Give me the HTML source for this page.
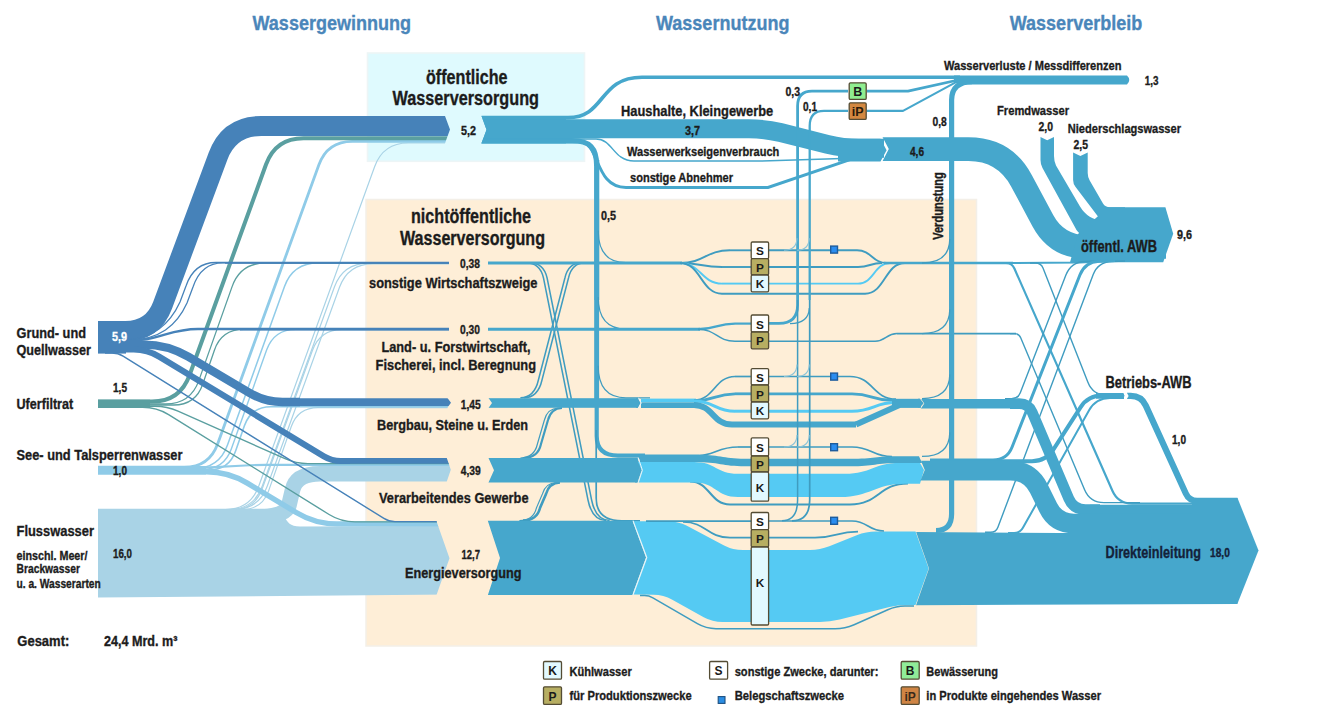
<!DOCTYPE html>
<html lang="de"><head><meta charset="utf-8"><title>Wasserfluss</title>
<style>
html,body{margin:0;padding:0;background:#fff}
svg{display:block}
text{font-family:"Liberation Sans",sans-serif;font-weight:bold}
</style></head><body>
<svg width="1336" height="711" viewBox="0 0 1336 711">
<rect x="0" y="0" width="1336.00" height="711.00" fill="#ffffff" />
<rect x="367.5" y="53" width="217.00" height="108.30" fill="#dffafe" stroke="#edf5f6" stroke-width="1.6"/>
<rect x="366" y="199.5" width="610.50" height="446.50" fill="#feeed7" stroke="#f3efe8" stroke-width="1.5"/>
<defs>
<clipPath id="cA"><polygon points="0,0 445,0 445,116 450,129.6 445,143.2 445,711 0,711"/></clipPath>
<clipPath id="cD"><polygon points="0,0 447.5,0 447.5,398 451,402.8 447.5,407.6 447.5,711 0,711"/></clipPath>
<clipPath id="cE"><polygon points="0,0 446.8,0 446.8,458 450.8,469.8 446.8,481.6 446.8,711 0,711"/></clipPath>
<clipPath id="cF"><polygon points="0,0 436.5,0 436.5,521.3 449.5,558.15 436.5,595 436.5,711 0,711"/></clipPath>
</defs>
<path d="M98.0,509.5 L225.3,509.5 Q250.3,509.5 258.8,486.0 L374.7,166.5 Q383.2,143.0 408.2,143.0 L460.0,143.0" stroke="#a9d3e6" stroke-width="1.2" fill="none" clip-path="url(#cA)"/>
<path d="M98.0,509.5 L228.8,509.5 Q253.8,509.5 262.3,486.0 L334.5,286.8 Q343.0,263.3 368.0,263.3 L449.0,263.3" stroke="#a9d3e6" stroke-width="1.2" fill="none"/>
<path d="M98.0,509.5 L233.8,509.5 Q258.8,509.5 267.3,486.0 L339.5,287.3 Q348.0,263.8 373.0,263.8 L449.0,263.8" stroke="#a9d3e6" stroke-width="1.2" fill="none"/>
<path d="M98.0,509.5 L232.7,509.5 Q254.7,509.5 262.2,488.8 L312.5,350.3 Q320.0,329.6 342.0,329.6 L449.0,329.6" stroke="#a9d3e6" stroke-width="1.2" fill="none"/>
<path d="M98.0,509.5 L242.0,509.5 Q262.0,509.5 268.7,490.6 L291.3,426.5 Q298.0,407.6 318.0,407.6 L460.0,407.6" stroke="#a9d3e6" stroke-width="1.2" fill="none" clip-path="url(#cD)"/>
<path d="M98,508.8 L270,508.8 C290,508.8 280,526.5 300,526.5 L460,526 L460,594.5 L98,597.5 Z" fill="#a9d3e6" clip-path="url(#cF)"/>
<path d="M98,517 L255,517 Q286,517 289,505 L292.5,490 Q296,473.8 320,473.8 L460,473.8" stroke="#a9d3e6" stroke-width="15.6" fill="none" clip-path="url(#cE)"/>
<path d="M98.0,467.2 L184.2,467.2 Q209.2,467.2 217.7,443.7 L318.9,164.8 Q327.4,141.3 352.4,141.3 L460.0,141.3" stroke="#8fcbe8" stroke-width="2.8" fill="none" clip-path="url(#cA)"/>
<path d="M98.0,468.5 L194.0,468.5 Q219.0,468.5 227.5,445.0 L284.5,286.5 Q293.0,263.0 318.0,263.0 L449.0,263.0" stroke="#8fcbe8" stroke-width="1.5" fill="none"/>
<path d="M98.0,469.5 L202.0,469.5 Q224.0,469.5 231.4,448.8 L266.6,350.1 Q274.0,329.4 296.0,329.4 L449.0,329.4" stroke="#8fcbe8" stroke-width="1.4" fill="none"/>
<path d="M98.0,470.0 L209.0,470.0 Q229.0,470.0 235.6,451.1 L244.4,425.7 Q251.0,406.8 271.0,406.8 L460.0,406.8" stroke="#8fcbe8" stroke-width="1.6" fill="none" clip-path="url(#cD)"/>
<path d="M98.0,471.7 L206.5,471.7 Q228.5,471.7 247.3,483.1 L296.2,512.5 Q315.0,523.9 337.0,523.9 L460.0,523.9" stroke="#8fcbe8" stroke-width="5.4" fill="none" clip-path="url(#cF)"/>
<path d="M98.0,468.0 L190.0,468.0 Q200.0,468.0 210.0,467.4 L245.0,465.5 Q255.0,464.9 265.0,464.9 L460.0,464.9" stroke="#8fcbe8" stroke-width="2.2" fill="none" clip-path="url(#cE)"/>
<path d="M98,466 L206,466 L206,474.5 L98,474.5 Z" fill="#8fcbe8"/>
<path d="M98.0,401.5 L152.0,401.5 Q180.0,401.5 189.5,375.2 L266.0,164.5 Q275.5,138.2 303.5,138.2 L460.0,138.2" stroke="#5a9fa0" stroke-width="4" fill="none" clip-path="url(#cA)"/>
<path d="M98.0,404.0 L165.6,404.0 Q190.6,404.0 198.9,380.4 L232.1,286.6 Q240.4,263.0 265.4,263.0 L449.0,263.0" stroke="#5a9fa0" stroke-width="1.3" fill="none"/>
<path d="M98.0,405.0 L173.6,405.0 Q195.6,405.0 202.7,384.2 L214.4,350.2 Q221.5,329.4 243.5,329.4 L449.0,329.4" stroke="#5a9fa0" stroke-width="1.3" fill="none"/>
<path d="M98.0,407.2 L142.7,407.2 Q156.7,407.2 168.6,414.6 L329.1,514.5 Q341.0,521.9 355.0,521.9 L460.0,521.9" stroke="#5a9fa0" stroke-width="1.4" fill="none" clip-path="url(#cF)"/>
<path d="M98.0,406.2 L155.0,406.2 Q167.0,406.2 178.0,411.1 L285.0,458.7 Q296.0,463.6 308.0,463.6 L460.0,463.6" stroke="#5a9fa0" stroke-width="1.4" fill="none" clip-path="url(#cE)"/>
<path d="M98,399.8 L150,399.8 L150,408 L98,408 Z" fill="#5a9fa0"/>
<path d="M98.0,331.0 L125.5,331.0 Q153.0,331.0 162.6,305.2 L218.1,156.0 Q229.3,126.0 261.3,126.0 L460.0,126.0" stroke="#4682b9" stroke-width="20" fill="none" clip-path="url(#cA)"/>
<path d="M126,340 C152,339.5 170,324 180,302 L186,286 Q194,262.5 216,262.5 L449,262.5" stroke="#4682b9" stroke-width="1.3" fill="none"/>
<path d="M126,340.6 C160,340.4 177,325 187,303 L193,287 Q201,262.8 223,262.8 L449,262.8" stroke="#4682b9" stroke-width="1.3" fill="none"/>
<path d="M124,341 C160,341 168,329 198,329 L449,329" stroke="#4682b9" stroke-width="2.5" fill="none"/>
<path d="M240,329.2 L449,329.2" stroke="#4682b9" stroke-width="2.4" fill="none"/>
<path d="M225,262.8 L449,262.8" stroke="#4682b9" stroke-width="1.8" fill="none"/>
<path d="M120.0,344.6 L143.8,344.6 Q167.7,344.6 188.2,356.7 L249.9,393.1 Q265.0,402.0 282.5,402.0 L300.0,402.0" stroke="#4682b9" stroke-width="8.4" fill="none" clip-path="url(#cD)"/>
<path d="M285,398.2 L460,398.2 L460,405.9 L285,405.9 Z" fill="#4682b9" clip-path="url(#cD)"/>
<path d="M105.0,353.0 L112.0,353.0 Q118.0,353.0 123.1,356.2 L383.9,518.4 Q389.0,521.6 395.0,521.6 L460.0,521.6" stroke="#4682b9" stroke-width="1.4" fill="none" clip-path="url(#cF)"/>
<path d="M120.0,349.5 L133.7,349.5 Q147.4,349.5 159.1,356.6 L323.9,456.3 Q331.7,461.0 340.9,461.0 L350.0,461.0" stroke="#4682b9" stroke-width="6.2" fill="none" clip-path="url(#cE)"/>
<path d="M340,458 L460,458 L460,463.8 L340,463.8 Z" fill="#4682b9" clip-path="url(#cE)"/>
<path d="M98,321.2 L126,321.2 L126,353.6 L98,353.6 Z" fill="#4682b9"/>
<defs>
<clipPath id="cA2"><polygon points="1336,0 481.5,0 481.5,116 486.5,129.65 481.5,143.3 481.5,711 1336,711"/></clipPath>
<clipPath id="cD2"><polygon points="1336,0 488.5,0 488.5,398 492,403.0 488.5,408 488.5,711 1336,711"/></clipPath>
<clipPath id="cE2"><polygon points="1336,0 488.5,0 488.5,458 494,470.3 488.5,482.6 488.5,711 1336,711"/></clipPath>
<clipPath id="cF2"><polygon points="1336,0 487.8,0 487.8,520.7 500,557.95 487.8,595.2 487.8,711 1336,711"/></clipPath>
</defs>
<path d="M596.7,160 L596.7,436 Q596.7,455.6 618,455.6 L645,455.6" stroke="#46a7cc" stroke-width="4.2" fill="none" />
<path d="M596.7,160 L596.7,300" stroke="#46a7cc" stroke-width="5.2" fill="none" />
<path d="M596.7,300 L596.7,400" stroke="#46a7cc" stroke-width="4.8" fill="none" />
<path d="M596.2,430 L596.2,498 Q596.2,520.8 622,520.8 L640,520.8" stroke="#3f9cc0" stroke-width="1.7" fill="none" />
<path d="M598.2,230.60000000000002 Q598.2,262.6 626,262.6 L650,262.6" stroke="#3f9cc0" stroke-width="1.2" fill="none" />
<path d="M598.2,297 Q598.2,329 626,329 L650,329" stroke="#3f9cc0" stroke-width="1.2" fill="none" />
<path d="M598.2,365.8 Q598.2,397.8 626,397.8 L650,397.8" stroke="#3f9cc0" stroke-width="1.2" fill="none" />
<g clip-path="url(#cA2)">
<rect x="470" y="116" width="96.00" height="27.40" fill="#46a7cc" />
<path d="M470,117.6 L568,117.6 C606,117.6 598,77.2 642,77.2 L960,77.2" stroke="#46a7cc" stroke-width="3.6" fill="none" />
<path d="M470,140.7 L572,140.7 C590,140.7 596.7,148 596.7,166" stroke="#46a7cc" stroke-width="5.2" fill="none" />
<path d="M470,142 L580,142 C600,142 594,187.5 626,187.5 L768,187.5 L850,159.6" stroke="#46a7cc" stroke-width="3" fill="none" />
<path d="M470,139 L596,139 C613,139 613,161 634,161 L762,161 L850,158.2" stroke="#46a7cc" stroke-width="1.5" fill="none" />
<path d="M470.0,128.8 L749.0,128.8 Q765.0,128.8 780.5,132.6 L827.5,144.4 Q843.0,148.2 859.0,148.2 L884.0,148.2" stroke="#46a7cc" stroke-width="19" fill="none" />
</g>
<polygon points="838.0,138.7 880.5,138.7 886.6,150.2 880.5,161.6 838.0,161.6" fill="#46a7cc" />
<path d="M526,262.8 Q540,262.8 543.5,278 L588,500 Q592,520 606,520.6" stroke="#3f9cc0" stroke-width="1.5" fill="none" />
<path d="M585,262.8 Q572,262.8 568.5,278 L542,380 Q538,397.6 524,397.8" stroke="#3f9cc0" stroke-width="1.5" fill="none" />
<path d="M562,408 Q551,408.5 548,420 L541,444 Q538,457.6 524,458" stroke="#3f9cc0" stroke-width="2.2" fill="none" />
<path d="M560,482.5 Q549,483 546,494 L540,508 Q537,520.4 523,520.6" stroke="#3f9cc0" stroke-width="2.6" fill="none" />
<path d="M529.6,262.8 Q543.6,262.8 547.1,278 L591.6,500 Q595.6,520 609.6,520.6" stroke="#3f9cc0" stroke-width="1.5" fill="none" />
<path d="M581.4,262.8 Q568.4,262.8 564.9,278 L538.4,380 Q534.4,397.6 520.4,397.8" stroke="#3f9cc0" stroke-width="1.5" fill="none" />
<path d="M558.4,408 Q547.4,408.5 544.4,420 L537.4,444 Q534.4,457.6 520.4,458" stroke="#3f9cc0" stroke-width="1.2" fill="none" />
<path d="M556.4,482.5 Q545.4,483 542.4,494 L536.4,508 Q533.4,520.4 519.4,520.6" stroke="#3f9cc0" stroke-width="1.1" fill="none" />
<path d="M488,263 L682,263" stroke="#46a7cc" stroke-width="2.8" fill="none" />
<path d="M680,263 C705.0,263 705.0,250.3 730,250.3" stroke="#3f9cc0" stroke-width="1.9" fill="none" />
<path d="M730,250.3 L751.2,250.3" stroke="#3f9cc0" stroke-width="1.9" fill="none" />
<path d="M680,263 C701.0,263 701.0,267 722,267" stroke="#3f9cc0" stroke-width="1.9" fill="none" />
<path d="M722,267 L751.2,267" stroke="#3f9cc0" stroke-width="1.9" fill="none" />
<path d="M680,263 C701.0,263 701.0,283.6 722,283.6" stroke="#55caf3" stroke-width="1.9" fill="none" />
<path d="M722,283.6 L751.2,283.6" stroke="#55caf3" stroke-width="1.9" fill="none" />
<path d="M680,263 C701.0,263 701.0,293.7 722,293.7" stroke="#3f9cc0" stroke-width="1.9" fill="none" />
<path d="M722,293.7 L865,293.7" stroke="#3f9cc0" stroke-width="1.9" fill="none" />
<path d="M768.6,250.3 L857,250.3" stroke="#3f9cc0" stroke-width="1.9" fill="none" />
<path d="M857,250.3 C872.0,250.3 872.0,263 887,263" stroke="#3f9cc0" stroke-width="1.9" fill="none" />
<path d="M768.6,267 L858,267" stroke="#3f9cc0" stroke-width="1.9" fill="none" />
<path d="M858,267 C870.0,267 870.0,263 882,263" stroke="#3f9cc0" stroke-width="1.9" fill="none" />
<path d="M768.6,283.6 L858,283.6" stroke="#55caf3" stroke-width="1.9" fill="none" />
<path d="M858,283.6 C874.0,283.6 874.0,263 890,263" stroke="#55caf3" stroke-width="1.9" fill="none" />
<path d="M865,293.7 C885.0,293.7 885.0,263 905,263" stroke="#3f9cc0" stroke-width="1.9" fill="none" />
<path d="M884,263 L1013,263" stroke="#46a7cc" stroke-width="2.6" fill="none" />
<path d="M488,329.2 L700,329.2" stroke="#46a7cc" stroke-width="2.9" fill="none" />
<path d="M698,329.2 C716.5,329.2 716.5,323.6 735,323.6" stroke="#46a7cc" stroke-width="2.2" fill="none" />
<path d="M735,323.6 L751.2,323.6" stroke="#46a7cc" stroke-width="2.2" fill="none" />
<path d="M698,329.2 C716.5,329.2 716.5,341.2 735,341.2" stroke="#3f9cc0" stroke-width="1.5" fill="none" />
<path d="M735,341.2 L875,341.2" stroke="#3f9cc0" stroke-width="1.5" fill="none" />
<path d="M875,341.2 C886.0,341.2 886.0,333.6 897,333.6" stroke="#3f9cc0" stroke-width="1.5" fill="none" />
<path d="M897,333.6 L1016,333.6" stroke="#3f9cc0" stroke-width="1.7" fill="none" />
<g clip-path="url(#cD2)">
<rect x="480" y="398.2" width="158.00" height="9.60" fill="#46a7cc" />
</g>
<polygon points="636.0,398.2 638.0,398.2 640.5,403.0 638.0,407.8 636.0,407.8" fill="#46a7cc" />
<rect x="641" y="398.6" width="55.00" height="3.80" fill="#55caf3" />
<rect x="641" y="402.4" width="55.00" height="5.60" fill="#46a7cc" />
<path d="M638.6,397.8 L641.2,403 L638.6,408.2" stroke="#e8f6fb" stroke-width="1" fill="none"/>
<path d="M694,400 C714.5,400 714.5,376.5 735,376.5" stroke="#3f9cc0" stroke-width="1.7" fill="none" />
<path d="M735,376.5 L751.2,376.5" stroke="#3f9cc0" stroke-width="1.7" fill="none" />
<path d="M694,401 C714.5,401 714.5,393.8 735,393.8" stroke="#46a7cc" stroke-width="2.8" fill="none" />
<path d="M735,393.8 L751.2,393.8" stroke="#46a7cc" stroke-width="2.8" fill="none" />
<path d="M694,401 C714.5,401 714.5,411.2 735,411.2" stroke="#55caf3" stroke-width="3" fill="none" />
<path d="M735,411.2 L751.2,411.2" stroke="#55caf3" stroke-width="3" fill="none" />
<path d="M694,405 C713.0,405 713.0,424.6 732,424.6" stroke="#46a7cc" stroke-width="6" fill="none" />
<path d="M732,424.6 L856,424.6" stroke="#46a7cc" stroke-width="6" fill="none" />
<path d="M768.6,376.5 L850,376.5" stroke="#3f9cc0" stroke-width="1.7" fill="none" />
<path d="M850,376.5 C873.0,376.5 873.0,399.2 896,399.2" stroke="#3f9cc0" stroke-width="1.7" fill="none" />
<path d="M768.6,393.8 L852,393.8" stroke="#46a7cc" stroke-width="2.8" fill="none" />
<path d="M852,393.8 C872.0,393.8 872.0,400.3 892,400.3" stroke="#46a7cc" stroke-width="2.8" fill="none" />
<path d="M768.6,411.2 L852,411.2" stroke="#55caf3" stroke-width="3" fill="none" />
<path d="M852,411.2 C874.0,411.2 874.0,402.6 896,402.6" stroke="#55caf3" stroke-width="3" fill="none" />
<path d="M856,424.6 L900,404.8 L921,404.8" stroke="#46a7cc" stroke-width="6" fill="none" stroke-linejoin="round"/>
<rect x="892" y="398.8" width="28.00" height="8.80" fill="#46a7cc" />
<polygon points="918.0,398.8 920.0,398.8 923.6,403.2 920.0,407.6 918.0,407.6" fill="#46a7cc" />
<g clip-path="url(#cE2)">
<rect x="480" y="458" width="157.50" height="24.50" fill="#46a7cc" />
</g>
<polygon points="635.0,458.0 637.5,458.0 641.7,470.2 637.5,482.5 635.0,482.5" fill="#46a7cc" />
<path d="M694,456 C716.0,456 716.0,447 738,447" stroke="#3f9cc0" stroke-width="1.7" fill="none" />
<path d="M738,447 L751.2,447" stroke="#3f9cc0" stroke-width="1.7" fill="none" />
<path d="M768.6,447 L852,447" stroke="#3f9cc0" stroke-width="1.7" fill="none" />
<path d="M852,447 C872.0,447 872.0,456.6 892,456.6" stroke="#3f9cc0" stroke-width="1.7" fill="none" />
<path d="M690,481.5 C710.0,481.5 710.0,504.5 730,504.5" stroke="#3f9cc0" stroke-width="2" fill="none" />
<path d="M730,504.5 L850,504.5" stroke="#3f9cc0" stroke-width="2" fill="none" />
<path d="M850,504.5 C879.0,504.5 879.0,483.4 908,483.4" stroke="#3f9cc0" stroke-width="2" fill="none" />
<path d="M638,462 L694,462 C716,462 716,473.8 738,473.8 L845,473.8 C872,473.8 872,463 900,463 L920,463 L924,470 L920,483.7 L905,483.7 C875,483.7 870,497 840,497 L738,497 C716,497 716,482.5 694,482.5 L638,482.5 L642,470.2 Z" fill="#55caf3"/>
<path d="M638,454.6 L694,454.6 C720,454.6 722,458.8 745,458.8 L850,458.8 C875,458.8 875,456.2 900,456.2 L919,456.2 L922,463 L900,463 C875,463 875,466.3 850,466.3 L745,466.3 C722,466.3 720,462 694,462 L640,462 Z" fill="#46a7cc"/>
<path d="M638.2,457.6 L642.4,470.2 L638.2,482.9" stroke="#e8f6fb" stroke-width="1" fill="none"/>
<g clip-path="url(#cF2)">
<rect x="480" y="520.75" width="152.50" height="74.25" fill="#46a7cc" />
</g>
<polygon points="630.0,520.8 632.5,520.8 646.0,557.5 632.5,594.6 630.0,595.0" fill="#46a7cc" />
<path d="M633.0,521.2 L668.0,521.2 Q678.0,521.2 686.9,525.8 L724.1,545.4 Q733.0,550.0 743.0,550.0 L810.0,550.0 Q820.0,550.0 829.3,546.3 L856.7,535.2 Q866.0,531.5 876.0,531.5 L915.5,531.5 Q915.5,531.5 915.5,531.5 L928.7,568.5 L915.5,605.0 L906.8,605.0 Q898.0,605.0 889.5,607.1 L839.7,619.6 Q830.0,622.0 820.0,622.0 L722.5,622.0 Q712.5,622.0 703.7,617.2 L672.3,599.7 Q663.5,594.9 653.5,594.8 L633.0,594.6 Q633.0,594.6 633.0,594.6 L646.6,557.5 Z" fill="#55caf3"/>
<path d="M633,520.6 L646.8,557.5 L633,595" stroke="#e8f6fb" stroke-width="1.1" fill="none"/>
<path d="M646,521.2 L751.2,521.2" stroke="#3f9cc0" stroke-width="1.7" fill="none" />
<path d="M768.6,521 L852,521" stroke="#3f9cc0" stroke-width="1.7" fill="none" />
<path d="M852,521 C868.0,521 868.0,531 884,531" stroke="#3f9cc0" stroke-width="1.7" fill="none" />
<path d="M683,522 C706.5,522 706.5,537.6 730,537.6" stroke="#3f9cc0" stroke-width="1.7" fill="none" />
<path d="M730,537.6 L815,537.6" stroke="#3f9cc0" stroke-width="1.7" fill="none" />
<path d="M815,537.6 C836.5,537.6 836.5,531.6 858,531.6" stroke="#3f9cc0" stroke-width="1.7" fill="none" />
<path d="M640.0,595.6 L644.5,595.6 Q649.0,595.6 652.9,597.9 L697.4,623.7 Q706.0,628.7 716.0,628.7 L835.0,628.7 Q845.0,628.7 854.1,624.7 L887.8,609.8 Q896.0,606.2 905.0,606.1 L914.0,606.0" stroke="#3f9cc0" stroke-width="1.5" fill="none" />
<path d="M848,91.1 L812,91.1 Q797.6,91.1 797.6,106 L797.6,305 Q797.6,323.4 779,323.4 L768.6,323.4" stroke="#46a7cc" stroke-width="2.8" fill="none" />
<path d="M797.6,300 L797.6,500 Q797.6,520.6 782,520.8" stroke="#3f9cc0" stroke-width="1.5" fill="none" />
<path d="M848,110.9 L824,110.9 Q809.7,110.9 809.7,126 L809.7,300" stroke="#46a7cc" stroke-width="2.3" fill="none" />
<path d="M809.7,300 L809.7,500 Q809.7,520.6 792,520.8" stroke="#3f9cc0" stroke-width="1.7" fill="none" />
<path d="M784,250.3 Q796.6,250.3 797.0,238.3" stroke="#8cc4d8" stroke-width="1.1" fill="none" />
<path d="M797,250.3 Q808.7,250.3 809.3000000000001,238.3" stroke="#8cc4d8" stroke-width="1.1" fill="none" />
<path d="M784,376.5 Q796.6,376.5 797.0,364.5" stroke="#8cc4d8" stroke-width="1.1" fill="none" />
<path d="M797,376.5 Q808.7,376.5 809.3000000000001,364.5" stroke="#8cc4d8" stroke-width="1.1" fill="none" />
<path d="M784,447 Q796.6,447 797.0,435" stroke="#8cc4d8" stroke-width="1.1" fill="none" />
<path d="M797,447 Q808.7,447 809.3000000000001,435" stroke="#8cc4d8" stroke-width="1.1" fill="none" />
<path d="M790,323.6 Q808.7,323.6 809.3000000000001,308" stroke="#3f9cc0" stroke-width="1.3" fill="none" />
<path d="M867,91.1 L908,91.1 L957,80.2" stroke="#46a7cc" stroke-width="2.7" fill="none" stroke-linejoin="round"/>
<path d="M867,110.9 L903,110.9 L957,81.6" stroke="#46a7cc" stroke-width="2.1" fill="none" stroke-linejoin="round"/>
<path d="M936,530.5 Q951.6,530.5 951.6,514 L951.6,100 Q951.6,82 972,81.6" stroke="#46a7cc" stroke-width="5.2" fill="none" />
<path d="M922,263 Q949.4,263 949.8000000000001,239" stroke="#3f9cc0" stroke-width="1.3" fill="none" />
<path d="M922,333.6 Q949.4,333.6 949.8000000000001,309.6" stroke="#3f9cc0" stroke-width="1.3" fill="none" />
<path d="M922,398.6 Q949.4,398.6 949.8000000000001,374.6" stroke="#3f9cc0" stroke-width="1.3" fill="none" />
<path d="M922,456.4 Q949.4,456.4 949.8000000000001,432.4" stroke="#3f9cc0" stroke-width="1.3" fill="none" />
<path d="M954,75.6 L1127,75.6 Q1131.5,80 1127,84.6 L958,84.6 L954,81 Z" fill="#46a7cc"/>
<defs>
<clipPath id="cG"><polygon points="1336,0 882.6,0 882.6,137.2 888.8,149.1 882.6,161 882.6,711 1336,711"/></clipPath>
</defs>
<g clip-path="url(#cG)">
<path d="M880.0,149.1 L968.5,149.1 Q1004.5,149.1 1021.5,180.8 L1042.8,220.6 Q1057.0,247.0 1087.0,247.0 L1166.0,247.0" stroke="#46a7cc" stroke-width="23.6" fill="none" />
</g>
<path d="M1040.5,136.9 L1047.2,140.2 L1054,136.9 L1054,156 Q1054,161 1056,165.5 L1080,206.5 Q1088,219.8 1103,220.8 L1115,221 L1115,236 L1084,235 Q1079.5,234.5 1076.5,230 L1042.5,168 Q1040.5,164.5 1040.5,160 Z" fill="#46a7cc"/>
<path d="M1073.1,152.6 L1080.4,156 L1087.7,152.6 L1087.7,173 Q1087.7,177 1089.7,180.5 L1103,203.5 Q1105.3,207.3 1110,207.3 L1125,207.3 L1125,224 L1108,222.6 Q1102,222 1098,216.5 L1075.6,187 Q1073.1,184 1073.1,180 Z" fill="#46a7cc"/>
<polygon points="1108.0,207.3 1165.4,207.3 1173.2,233.8 1163.2,262.2 1070.0,262.2 1078.0,234.0" fill="#46a7cc" />
<path d="M1010,263 L1080,262.4 L1120,260.4" stroke="#46a7cc" stroke-width="2" fill="none" />
<path d="M1000.0,263.0 L1006.0,263.0 Q1012.0,263.0 1014.4,268.5 L1112.4,490.8 Q1118.0,503.6 1132.0,503.6 L1237.5,503.6" stroke="#46a7cc" stroke-width="2.2" fill="none" />
<path d="M1030.0,263.0 L1035.5,263.0 Q1041.0,263.0 1043.0,268.1 L1087.9,382.2 Q1093.0,395.2 1107.0,395.2 L1124.0,395.2" stroke="#3f9cc0" stroke-width="1.4" fill="none" />
<path d="M1010.0,333.6 L1014.5,333.6 Q1019.0,333.6 1020.7,337.7 L1084.6,489.7 Q1090.0,502.6 1104.0,502.6 L1140.0,502.6" stroke="#3f9cc0" stroke-width="1.4" fill="none" />
<path d="M1005.0,398.8 L1011.5,398.8 Q1018.0,398.8 1020.3,392.7 L1065.9,275.1 Q1071.0,262.0 1085.0,261.5 L1100.0,261.0" stroke="#3f9cc0" stroke-width="1.4" fill="none" />
<path d="M985.0,532.3 L990.5,532.3 Q996.0,532.3 997.9,527.2 L1093.2,274.6 Q1098.0,262.0 1111.5,261.5 L1125.0,261.0" stroke="#3f9cc0" stroke-width="1.4" fill="none" />
<path d="M930.0,460.0 L993.0,460.0 Q1007.0,460.0 1012.1,447.0 L1079.9,275.0 Q1085.0,262.0 1099.0,261.3 L1115.0,260.6" stroke="#46a7cc" stroke-width="3" fill="none" />
<path d="M930.0,461.2 L1032.0,461.2 Q1046.0,461.2 1053.5,449.4 L1080.5,407.4 Q1088.0,395.6 1102.0,395.6 L1124.0,395.6" stroke="#46a7cc" stroke-width="4" fill="none" />
<path d="M1008.0,533.0 L1014.0,533.0 Q1020.0,533.0 1022.9,527.8 L1089.1,410.2 Q1096.0,398.0 1110.0,398.0 L1124.0,398.0" stroke="#46a7cc" stroke-width="2" fill="none" />
<defs>
<clipPath id="cD3"><polygon points="1336,0 920.6,0 920.6,398 924.3,403.5 920.6,409 920.6,711 1336,711"/></clipPath>
<clipPath id="cE3"><polygon points="1336,0 919,0 919,456 924.8,470.0 919,484 919,711 1336,711"/></clipPath>
<clipPath id="cF3"><polygon points="1336,0 915.8,0 915.8,531 929,568.5 915.8,606 915.8,711 1336,711"/></clipPath>
</defs>
<g clip-path="url(#cD3)">
<path d="M915.0,403.7 L1020.0,403.7" stroke="#46a7cc" stroke-width="9.6" fill="none" />
<path d="M1010.0,403.7 L1019.2,403.7 Q1028.5,403.7 1032.1,412.2 L1068.8,498.6 Q1073.5,509.6 1085.5,509.6 L1100.0,509.6" stroke="#46a7cc" stroke-width="10.8" fill="none" />
<path d="M1090.0,509.6 L1237.5,509.6" stroke="#46a7cc" stroke-width="9.6" fill="none" />
</g>
<g clip-path="url(#cE3)">
<path d="M915.0,470.6 L1010.0,470.6 Q1030.0,470.6 1038.8,488.5 L1048.1,507.3 Q1056.0,523.5 1074.0,523.5 L1237.5,523.5" stroke="#46a7cc" stroke-width="19.6" fill="none" />
</g>
<g clip-path="url(#cF3)">
<path d="M910,532 L1060,533 L1237.5,533 L1237.5,604 L910,605.2 Z" fill="#46a7cc"/>
</g>
<polygon points="1096.0,393.0 1123.0,393.0 1124.6,395.8 1123.0,398.8 1096.0,398.8" fill="#46a7cc" />
<defs>
<clipPath id="cB"><polygon points="1336,0 1127,0 1127,393 1128.6,395.9 1127,398.8 1127,711 1336,711"/></clipPath>
</defs>
<g clip-path="url(#cB)">
<path d="M1120.0,395.9 L1130.7,395.9 Q1141.4,395.9 1145.8,405.6 L1185.8,493.5 Q1189.1,500.8 1197.1,500.8 L1237.5,500.8" stroke="#46a7cc" stroke-width="6.2" fill="none" />
</g>
<polygon points="1192.0,498.0 1237.5,498.0 1258.5,550.5 1237.5,603.6 1192.0,604.0" fill="#46a7cc" />
<rect x="751.2" y="242" width="17.4" height="16.7" fill="#ffffff" stroke="#544c34" stroke-width="1.3" rx="1.2"/>
<text x="759.9" y="255.4" font-size="11.8" text-anchor="middle" fill="#1a1a1a" >S</text>
<rect x="751.2" y="258.7" width="17.4" height="16.3" fill="#b7ae62" stroke="#544c34" stroke-width="1.3" rx="1.2"/>
<text x="759.9" y="271.9" font-size="11.8" text-anchor="middle" fill="#1a1a1a" >P</text>
<rect x="751.2" y="275" width="17.4" height="16.8" fill="#e2f9ff" stroke="#544c34" stroke-width="1.3" rx="1.2"/>
<text x="759.9" y="288.4" font-size="11.8" text-anchor="middle" fill="#1a1a1a" >K</text>
<rect x="751.2" y="315" width="17.4" height="17.0" fill="#ffffff" stroke="#544c34" stroke-width="1.3" rx="1.2"/>
<text x="759.9" y="328.5" font-size="11.8" text-anchor="middle" fill="#1a1a1a" >S</text>
<rect x="751.2" y="332" width="17.4" height="16.8" fill="#b7ae62" stroke="#544c34" stroke-width="1.3" rx="1.2"/>
<text x="759.9" y="345.4" font-size="11.8" text-anchor="middle" fill="#1a1a1a" >P</text>
<rect x="751.2" y="368.6" width="17.4" height="16.4" fill="#ffffff" stroke="#544c34" stroke-width="1.3" rx="1.2"/>
<text x="759.9" y="381.8" font-size="11.8" text-anchor="middle" fill="#1a1a1a" >S</text>
<rect x="751.2" y="385" width="17.4" height="17.0" fill="#b7ae62" stroke="#544c34" stroke-width="1.3" rx="1.2"/>
<text x="759.9" y="398.5" font-size="11.8" text-anchor="middle" fill="#1a1a1a" >P</text>
<rect x="751.2" y="402" width="17.4" height="16.8" fill="#e2f9ff" stroke="#544c34" stroke-width="1.3" rx="1.2"/>
<text x="759.9" y="415.4" font-size="11.8" text-anchor="middle" fill="#1a1a1a" >K</text>
<rect x="751.2" y="437.8" width="17.4" height="18.2" fill="#ffffff" stroke="#544c34" stroke-width="1.3" rx="1.2"/>
<text x="759.9" y="451.9" font-size="11.8" text-anchor="middle" fill="#1a1a1a" >S</text>
<rect x="751.2" y="456" width="17.4" height="16.0" fill="#b7ae62" stroke="#544c34" stroke-width="1.3" rx="1.2"/>
<text x="759.9" y="469.0" font-size="11.8" text-anchor="middle" fill="#1a1a1a" >P</text>
<rect x="751.2" y="472" width="17.4" height="29.2" fill="#e2f9ff" stroke="#544c34" stroke-width="1.3" rx="1.2"/>
<text x="759.9" y="491.6" font-size="11.8" text-anchor="middle" fill="#1a1a1a" >K</text>
<rect x="751.2" y="512.5" width="17.4" height="17.1" fill="#ffffff" stroke="#544c34" stroke-width="1.3" rx="1.2"/>
<text x="759.9" y="526.1" font-size="11.8" text-anchor="middle" fill="#1a1a1a" >S</text>
<rect x="751.2" y="529.6" width="17.4" height="17.4" fill="#b7ae62" stroke="#544c34" stroke-width="1.3" rx="1.2"/>
<text x="759.9" y="543.3" font-size="11.8" text-anchor="middle" fill="#1a1a1a" >P</text>
<rect x="751.2" y="547" width="17.4" height="78.0" fill="#e2f9ff" stroke="#544c34" stroke-width="1.3" rx="1.2"/>
<text x="759.9" y="587.2" font-size="11.8" text-anchor="middle" fill="#1a1a1a" >K</text>
<rect x="849.2" y="82.8" width="17.0" height="16.6" fill="#90ee90" stroke="#544c34" stroke-width="1.3" rx="1.2"/>
<text x="857.7" y="95.9" font-size="12.5" text-anchor="middle" fill="#1a1a1a" >B</text>
<rect x="849.2" y="102.8" width="17.0" height="16.6" fill="#d48840" stroke="#544c34" stroke-width="1.3" rx="1.2"/>
<text x="857.7" y="115.9" font-size="12.5" text-anchor="middle" fill="#2a1a0a" >iP</text>
<rect x="830.7" y="246.1" width="6.8" height="7" fill="#2b8df0" stroke="#1f5c9c" stroke-width="1.4"/>
<rect x="830.7" y="373.1" width="6.8" height="7" fill="#2b8df0" stroke="#1f5c9c" stroke-width="1.4"/>
<rect x="830.7" y="443.7" width="6.8" height="7" fill="#2b8df0" stroke="#1f5c9c" stroke-width="1.4"/>
<rect x="830.7" y="517.3" width="6.8" height="7" fill="#2b8df0" stroke="#1f5c9c" stroke-width="1.4"/>
<text x="252.5" y="30" font-size="21" fill="#4a86ba" stroke="#4a86ba" stroke-width="0.35" textLength="158.5" lengthAdjust="spacingAndGlyphs" >Wassergewinnung</text>
<text x="656" y="30" font-size="21" fill="#4a86ba" stroke="#4a86ba" stroke-width="0.35" textLength="133.4" lengthAdjust="spacingAndGlyphs" >Wassernutzung</text>
<text x="1009.7" y="30.4" font-size="21" fill="#4a86ba" stroke="#4a86ba" stroke-width="0.35" textLength="132.6" lengthAdjust="spacingAndGlyphs" >Wasserverbleib</text>
<text x="426" y="83.5" font-size="20" fill="#1c1c1c" stroke="#1c1c1c" stroke-width="0.35" textLength="81.5" lengthAdjust="spacingAndGlyphs" >öffentliche</text>
<text x="392.5" y="105" font-size="20" fill="#1c1c1c" stroke="#1c1c1c" stroke-width="0.35" textLength="146.5" lengthAdjust="spacingAndGlyphs" >Wasserversorgung</text>
<text x="411" y="222.5" font-size="20" fill="#1c1c1c" stroke="#1c1c1c" stroke-width="0.35" textLength="120.0" lengthAdjust="spacingAndGlyphs" >nichtöffentliche</text>
<text x="400" y="245" font-size="20" fill="#1c1c1c" stroke="#1c1c1c" stroke-width="0.35" textLength="145.0" lengthAdjust="spacingAndGlyphs" >Wasserversorgung</text>
<text x="369" y="287.5" font-size="15.5" fill="#1c1c1c" stroke="#1c1c1c" stroke-width="0.35" textLength="168.5" lengthAdjust="spacingAndGlyphs" >sonstige Wirtschaftszweige</text>
<text x="381.4" y="351.6" font-size="15.5" fill="#1c1c1c" stroke="#1c1c1c" stroke-width="0.35" textLength="149.1" lengthAdjust="spacingAndGlyphs" >Land- u. Forstwirtschaft,</text>
<text x="375.6" y="370" font-size="15.5" fill="#1c1c1c" stroke="#1c1c1c" stroke-width="0.35" textLength="160.4" lengthAdjust="spacingAndGlyphs" >Fischerei, incl. Beregnung</text>
<text x="377" y="429.5" font-size="15.5" fill="#1c1c1c" stroke="#1c1c1c" stroke-width="0.35" textLength="151.0" lengthAdjust="spacingAndGlyphs" >Bergbau, Steine u. Erden</text>
<text x="379" y="502.5" font-size="15.5" fill="#1c1c1c" stroke="#1c1c1c" stroke-width="0.35" textLength="149.5" lengthAdjust="spacingAndGlyphs" >Verarbeitendes Gewerbe</text>
<text x="405" y="577.5" font-size="15.5" fill="#1c1c1c" stroke="#1c1c1c" stroke-width="0.35" textLength="116.5" lengthAdjust="spacingAndGlyphs" >Energieversorgung</text>
<text x="461" y="134.5" font-size="13" fill="#1c1c1c" stroke="#1c1c1c" stroke-width="0.35" textLength="15.0" lengthAdjust="spacingAndGlyphs" >5,2</text>
<text x="460" y="268" font-size="13" fill="#1c1c1c" stroke="#1c1c1c" stroke-width="0.35" textLength="20.0" lengthAdjust="spacingAndGlyphs" >0,38</text>
<text x="460" y="334" font-size="13" fill="#1c1c1c" stroke="#1c1c1c" stroke-width="0.35" textLength="20.0" lengthAdjust="spacingAndGlyphs" >0,30</text>
<text x="460.8" y="408.8" font-size="13" fill="#1c1c1c" stroke="#1c1c1c" stroke-width="0.35" textLength="20.0" lengthAdjust="spacingAndGlyphs" >1,45</text>
<text x="460.8" y="475" font-size="13" fill="#1c1c1c" stroke="#1c1c1c" stroke-width="0.35" textLength="20.0" lengthAdjust="spacingAndGlyphs" >4,39</text>
<text x="461.5" y="558.8" font-size="13" fill="#1c1c1c" stroke="#1c1c1c" stroke-width="0.35" textLength="18.5" lengthAdjust="spacingAndGlyphs" >12,7</text>
<text x="16.5" y="337.5" font-size="15.5" fill="#1c1c1c" stroke="#1c1c1c" stroke-width="0.35" textLength="69.5" lengthAdjust="spacingAndGlyphs" >Grund- und</text>
<text x="16.5" y="354.8" font-size="15.5" fill="#1c1c1c" stroke="#1c1c1c" stroke-width="0.35" textLength="74.5" lengthAdjust="spacingAndGlyphs" >Quellwasser</text>
<text x="112" y="341" font-size="13" fill="#ffffff" stroke="#ffffff" stroke-width="0.35" textLength="15.0" lengthAdjust="spacingAndGlyphs" >5,9</text>
<text x="113" y="392" font-size="13" fill="#1c1c1c" stroke="#1c1c1c" stroke-width="0.35" textLength="14.0" lengthAdjust="spacingAndGlyphs" >1,5</text>
<text x="16.5" y="409" font-size="15.5" fill="#1c1c1c" stroke="#1c1c1c" stroke-width="0.35" textLength="56.7" lengthAdjust="spacingAndGlyphs" >Uferfiltrat</text>
<text x="16.5" y="459.5" font-size="15.5" fill="#1c1c1c" stroke="#1c1c1c" stroke-width="0.35" textLength="166.0" lengthAdjust="spacingAndGlyphs" >See- und Talsperrenwasser</text>
<text x="113" y="475" font-size="13" fill="#1c1c1c" stroke="#1c1c1c" stroke-width="0.35" textLength="14.0" lengthAdjust="spacingAndGlyphs" >1,0</text>
<text x="16.5" y="536" font-size="15.5" fill="#1c1c1c" stroke="#1c1c1c" stroke-width="0.35" textLength="77.5" lengthAdjust="spacingAndGlyphs" >Flusswasser</text>
<text x="16.5" y="559.5" font-size="13" fill="#1c1c1c" stroke="#1c1c1c" stroke-width="0.35" textLength="71.0" lengthAdjust="spacingAndGlyphs" >einschl. Meer/</text>
<text x="16.5" y="573.2" font-size="13" fill="#1c1c1c" stroke="#1c1c1c" stroke-width="0.35" textLength="63.5" lengthAdjust="spacingAndGlyphs" >Brackwasser</text>
<text x="16.5" y="587.5" font-size="13" fill="#1c1c1c" stroke="#1c1c1c" stroke-width="0.35" textLength="84.3" lengthAdjust="spacingAndGlyphs" >u. a. Wasserarten</text>
<text x="113" y="557.5" font-size="13" fill="#1c1c1c" stroke="#1c1c1c" stroke-width="0.35" textLength="19.0" lengthAdjust="spacingAndGlyphs" >16,0</text>
<text x="17.3" y="645.8" font-size="14" fill="#1c1c1c" stroke="#1c1c1c" stroke-width="0.35" textLength="52.0" lengthAdjust="spacingAndGlyphs" >Gesamt:</text>
<text x="104" y="645.8" font-size="14" fill="#1c1c1c" stroke="#1c1c1c" stroke-width="0.35" textLength="73.4" lengthAdjust="spacingAndGlyphs" >24,4 Mrd. m³</text>
<text x="621" y="115.5" font-size="15.5" fill="#1c1c1c" stroke="#1c1c1c" stroke-width="0.35" textLength="152.2" lengthAdjust="spacingAndGlyphs" >Haushalte, Kleingewerbe</text>
<text x="685" y="134.5" font-size="13" fill="#1c1c1c" stroke="#1c1c1c" stroke-width="0.35" textLength="15.0" lengthAdjust="spacingAndGlyphs" >3,7</text>
<text x="627" y="156" font-size="13.5" fill="#1c1c1c" stroke="#1c1c1c" stroke-width="0.35" textLength="152.3" lengthAdjust="spacingAndGlyphs" >Wasserwerkseigenverbrauch</text>
<text x="630" y="182" font-size="13.5" fill="#1c1c1c" stroke="#1c1c1c" stroke-width="0.35" textLength="103.0" lengthAdjust="spacingAndGlyphs" >sonstige Abnehmer</text>
<text x="601" y="220" font-size="13" fill="#1c1c1c" stroke="#1c1c1c" stroke-width="0.35" textLength="15.0" lengthAdjust="spacingAndGlyphs" >0,5</text>
<text x="785.4" y="96" font-size="13" fill="#1c1c1c" stroke="#1c1c1c" stroke-width="0.35" textLength="14.6" lengthAdjust="spacingAndGlyphs" >0,3</text>
<text x="803" y="110.8" font-size="13" fill="#1c1c1c" stroke="#1c1c1c" stroke-width="0.35" textLength="14.0" lengthAdjust="spacingAndGlyphs" >0,1</text>
<text x="932.5" y="126" font-size="13" fill="#1c1c1c" stroke="#1c1c1c" stroke-width="0.35" textLength="14.3" lengthAdjust="spacingAndGlyphs" >0,8</text>
<text x="910" y="156" font-size="13" fill="#1c1c1c" stroke="#1c1c1c" stroke-width="0.35" textLength="14.0" lengthAdjust="spacingAndGlyphs" >4,6</text>
<text transform="translate(942.5,239.8) rotate(-90)" font-size="14.5" fill="#1c1c1c" stroke="#1c1c1c" stroke-width="0.4" textLength="67.5" lengthAdjust="spacingAndGlyphs">Verdunstung</text>
<text x="944" y="70" font-size="13.5" fill="#1c1c1c" stroke="#1c1c1c" stroke-width="0.35" textLength="177.5" lengthAdjust="spacingAndGlyphs" >Wasserverluste / Messdifferenzen</text>
<text x="1144.8" y="84.5" font-size="13" fill="#1c1c1c" stroke="#1c1c1c" stroke-width="0.35" textLength="13.7" lengthAdjust="spacingAndGlyphs" >1,3</text>
<text x="997" y="115" font-size="13.5" fill="#1c1c1c" stroke="#1c1c1c" stroke-width="0.35" textLength="72.0" lengthAdjust="spacingAndGlyphs" >Fremdwasser</text>
<text x="1038.5" y="131" font-size="13" fill="#1c1c1c" stroke="#1c1c1c" stroke-width="0.35" textLength="14.5" lengthAdjust="spacingAndGlyphs" >2,0</text>
<text x="1067.8" y="133" font-size="13.5" fill="#1c1c1c" stroke="#1c1c1c" stroke-width="0.35" textLength="113.2" lengthAdjust="spacingAndGlyphs" >Niederschlagswasser</text>
<text x="1073.5" y="148.8" font-size="13" fill="#1c1c1c" stroke="#1c1c1c" stroke-width="0.35" textLength="14.5" lengthAdjust="spacingAndGlyphs" >2,5</text>
<text x="1081" y="252" font-size="15.8" fill="#1c1c1c" stroke="#1c1c1c" stroke-width="0.35" textLength="76.0" lengthAdjust="spacingAndGlyphs" >öffentl. AWB</text>
<text x="1177" y="239" font-size="13" fill="#1c1c1c" stroke="#1c1c1c" stroke-width="0.35" textLength="15.0" lengthAdjust="spacingAndGlyphs" >9,6</text>
<text x="1105.5" y="387.5" font-size="15.8" fill="#1c1c1c" stroke="#1c1c1c" stroke-width="0.35" textLength="86.0" lengthAdjust="spacingAndGlyphs" >Betriebs-AWB</text>
<text x="1172" y="443.8" font-size="13" fill="#1c1c1c" stroke="#1c1c1c" stroke-width="0.35" textLength="14.0" lengthAdjust="spacingAndGlyphs" >1,0</text>
<text x="1105.5" y="557.5" font-size="15.8" fill="#14213a" stroke="#14213a" stroke-width="0.35" textLength="95.5" lengthAdjust="spacingAndGlyphs" >Direkteinleitung</text>
<text x="1210" y="557" font-size="13" fill="#14213a" stroke="#14213a" stroke-width="0.35" textLength="19.8" lengthAdjust="spacingAndGlyphs" >18,0</text>
<rect x="543.5" y="661.5" width="18.0" height="17.6" fill="#e2f9ff" stroke="#544c34" stroke-width="1.3" rx="1.2"/>
<text x="552.5" y="675.4" font-size="12" text-anchor="middle" fill="#1a1a1a" >K</text>
<rect x="543.5" y="686.8" width="18.0" height="17.6" fill="#b7ae62" stroke="#544c34" stroke-width="1.3" rx="1.2"/>
<text x="552.5" y="700.7" font-size="12" text-anchor="middle" fill="#1a1a1a" >P</text>
<rect x="709.6" y="661.5" width="18.0" height="17.6" fill="#ffffff" stroke="#544c34" stroke-width="1.3" rx="1.2"/>
<text x="718.6" y="675.4" font-size="12" text-anchor="middle" fill="#1a1a1a" >S</text>
<rect x="718.2" y="696.6" width="6.8" height="6.8" fill="#2b8de3" stroke="#1d4f80" stroke-width="1.1"/>
<rect x="901.2" y="661.5" width="18.0" height="17.6" fill="#90ec98" stroke="#544c34" stroke-width="1.3" rx="1.2"/>
<text x="910.2" y="675.4" font-size="12" text-anchor="middle" fill="#1a1a1a" >B</text>
<rect x="901.2" y="686.8" width="18.0" height="17.6" fill="#cf8444" stroke="#544c34" stroke-width="1.3" rx="1.2"/>
<text x="910.2" y="700.7" font-size="12" text-anchor="middle" fill="#3a2a1a" >iP</text>
<text x="569.5" y="676" font-size="13.5" fill="#1c1c1c" stroke="#1c1c1c" stroke-width="0.35" textLength="62.2" lengthAdjust="spacingAndGlyphs" >Kühlwasser</text>
<text x="569.5" y="700.2" font-size="13.5" fill="#1c1c1c" stroke="#1c1c1c" stroke-width="0.35" textLength="122.1" lengthAdjust="spacingAndGlyphs" >für Produktionszwecke</text>
<text x="734.7" y="676" font-size="13.5" fill="#1c1c1c" stroke="#1c1c1c" stroke-width="0.35" textLength="143.7" lengthAdjust="spacingAndGlyphs" >sonstige Zwecke, darunter:</text>
<text x="734.7" y="700.2" font-size="13.5" fill="#1c1c1c" stroke="#1c1c1c" stroke-width="0.35" textLength="109.3" lengthAdjust="spacingAndGlyphs" >Belegschaftszwecke</text>
<text x="926.3" y="676" font-size="13.5" fill="#1c1c1c" stroke="#1c1c1c" stroke-width="0.35" textLength="71.7" lengthAdjust="spacingAndGlyphs" >Bewässerung</text>
<text x="926.3" y="700.2" font-size="13.5" fill="#1c1c1c" stroke="#1c1c1c" stroke-width="0.35" textLength="174.7" lengthAdjust="spacingAndGlyphs" >in Produkte eingehendes Wasser</text>
</svg>
</body></html>
